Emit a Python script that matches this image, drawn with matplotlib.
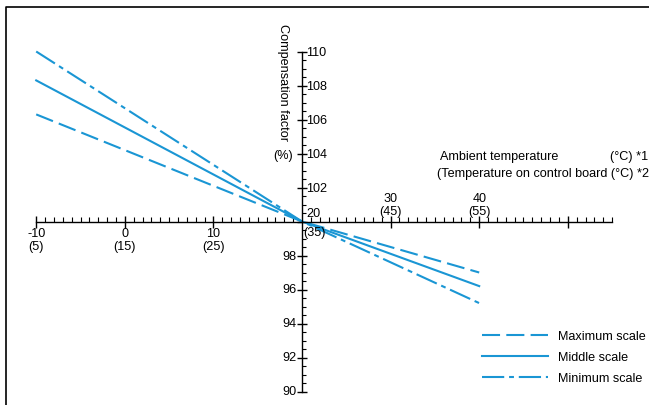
import matplotlib
matplotlib.use("Agg")
import matplotlib.pyplot as plt
from matplotlib.lines import Line2D
from matplotlib.ticker import FixedLocator, NullFormatter

plt.rcParams['font.family'] = ['Liberation Sans', 'DejaVu Sans']
plt.rcParams['lines.scale_dashes'] = False

# Data
temps = [-10, 20, 40]
max_scale = [106.3, 100.0, 97.0]
mid_scale = [108.3, 100.0, 96.2]
min_scale = [110.0, 100.0, 95.2]

x_tick_values = [-10, 0, 10, 30, 40]
x_tick_top = ["-10", "0", "10", "30", "40"]
x_tick_bottom = ["(5)", "(15)", "(25)", "(45)", "(55)"]
y_tick_values = [90, 92, 94, 96, 98, 102, 104, 106, 108, 110]

color = "#1a96d4"

W, H = 649, 406
fig = plt.figure(figsize=(W / 100, H / 100), dpi=100)
ax = fig.add_axes([0, 0, 1, 1])

# pixel mapping
px_per_x = 8.86
px_per_y = 17.0
x0px, y0px = 302, 222.5
ax.set_xlim(20 - x0px / px_per_x, 20 + (W - x0px) / px_per_x)
ax.set_ylim(100 - (H - y0px) / px_per_y, 100 + y0px / px_per_y)
ax.patch.set_alpha(0)

lw = 1.5
ax.plot(temps, max_scale, color=color, lw=lw, dashes=(13, 4.5), label="Maximum scale")
ax.plot(temps, mid_scale, color=color, lw=lw, label="Middle scale")
ax.plot(temps, min_scale, color=color, lw=lw, dashes=(16, 3.5, 3.5, 3.5), label="Minimum scale")

# axes as spines
for s in ['top', 'right']:
    ax.spines[s].set_visible(False)
ax.spines['left'].set_position(('data', 20))
ax.spines['bottom'].set_position(('data', 100))
ax.spines['left'].set_bounds(90, 110)
ax.spines['bottom'].set_bounds(-10, 55)
for s in ['left', 'bottom']:
    ax.spines[s].set_linewidth(1.0)
    ax.spines[s].set_color('black')

x_major = [-10, 0, 10, 30, 40, 50]
x_minor = [v for v in range(-10, 56) if v not in x_major and v != 20]
y_major = list(range(90, 111, 2))
y_minor = [90 + 0.5 * i for i in range(41) if (90 + 0.5 * i) not in y_major]
ax.xaxis.set_major_locator(FixedLocator(x_major))
ax.xaxis.set_minor_locator(FixedLocator(x_minor))
ax.xaxis.set_major_formatter(NullFormatter())
ax.yaxis.set_major_locator(FixedLocator(y_major))
ax.yaxis.set_minor_locator(FixedLocator(y_minor))
ax.yaxis.set_major_formatter(NullFormatter())
ax.tick_params(axis='x', which='major', direction='inout', length=8, width=1.0)
ax.tick_params(axis='x', which='minor', direction='in', length=3.5, width=0.8)
ax.tick_params(axis='y', which='major', direction='inout', length=7, width=1.0)
ax.tick_params(axis='y', which='minor', direction='in', length=3, width=0.8)

fs = 9.1
# x tick labels
for xv, t, b in zip(x_tick_values, x_tick_top, x_tick_bottom):
    if xv < 20:
        ax.annotate(t + "\n" + b, (xv, 100), xytext=(0, -4), textcoords='offset points',
                    ha='center', va='top', fontsize=fs, linespacing=1.12)
    else:
        ax.annotate(t + "\n" + b, (xv, 100), xytext=(0, 3), textcoords='offset points',
                    ha='center', va='bottom', fontsize=fs, linespacing=1.12)
ax.annotate("20", (20, 100), xytext=(3, 2), textcoords='offset points',
            ha='left', va='bottom', fontsize=fs)
ax.annotate("(35)", (20, 100), xytext=(1, -3), textcoords='offset points',
            ha='left', va='top', fontsize=fs)

# y tick labels
for yv in y_tick_values:
    if yv > 100:
        ax.annotate(str(yv), (20, yv), xytext=(3, 0), textcoords='offset points',
                    ha='left', va='center', fontsize=fs)
    else:
        ax.annotate(str(yv), (20, yv), xytext=(-4, 0), textcoords='offset points',
                    ha='right', va='center', fontsize=fs)

# axis titles
fig.text(283 / W, 1 - 24 / H, "Compensation factor", rotation=-90, ha='center', va='top', fontsize=fs)
fig.text(283 / W, 1 - 156 / H, "(%)", ha='center', va='center', fontsize=fs)
fig.text(440 / W, 1 - 157 / H, "Ambient temperature", ha='left', va='center', fontsize=fs)
fig.text(610 / W, 1 - 157 / H, "(°C) *1", ha='left', va='center', fontsize=fs)
fig.text(437 / W, 1 - 174 / H, "(Temperature on control board (°C) *2", ha='left', va='center', fontsize=fs)

# legend
leg = ax.legend(loc='upper left', bbox_to_anchor=(482 / W, 1 - 331 / H), frameon=False,
                fontsize=fs, handlelength=5.2, handletextpad=0.8, labelspacing=0.72,
                borderaxespad=0, borderpad=0)

# outer frame
fig.add_artist(Line2D([5.5 / W, 5.5 / W, 1.0], [0, 1 - 7.5 / H, 1 - 7.5 / H],
                      transform=fig.transFigure, color='black', lw=1.2))

fig.savefig("out.png", dpi=100)
